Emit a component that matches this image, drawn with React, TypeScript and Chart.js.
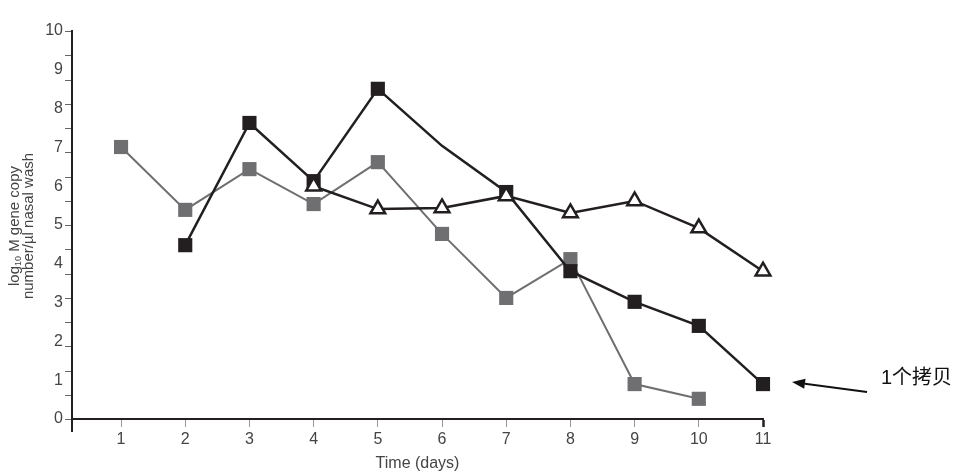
import React, { useEffect, useRef } from "react";
import { Chart, registerables } from "chart.js";

Chart.register(...registerables);

const days = [1, 2, 3, 4, 5, 6, 7, 8, 9, 10, 11];
const grayValues = [7.01, 5.39, 6.44, 5.54, 6.62, 4.77, 3.12, 4.12, 0.9, 0.52, null];
const blackValues = [null, 4.48, 7.63, 6.13, 8.51, 7.04, 5.85, 3.81, 3.02, 2.4, 0.9];
const blackMarkerVisible = [false, true, true, true, true, false, true, true, true, true, true];
const triangleValues = [null, null, null, 6.0, 5.41, 5.44, 5.75, 5.31, 5.62, 4.92, 3.81];
const yTickLabels = [0, 1, 2, 3, 4, 5, 6, 7, 8, 9, 10];
const xTitle = "Time (days)";
const yTitleLine1 = ["log", "10", " M gene copy"];
const yTitleLine2 = "number/µl nasal wash";
const annotationText = "1个拷贝";

const BLACK = "#231f20";
const GRAY = "#6f6f71";
const TEXT = "#444444";
const FONT = '"Liberation Sans", Arial, sans-serif';

const toPoints = (vals: (number | null)[]) =>
  days.map((d, i) => ({ x: d, y: vals[i] as number | null }));

const extrasPlugin = {
  id: "extras",
  afterDraw(chart: any) {
    const ctx = chart.ctx;
    const y = chart.scales.y;
    const area = chart.chartArea;
    const ax = area.left;
    ctx.save();
    // minor tick marks on y axis (17 evenly spaced marks)
    ctx.strokeStyle = "#666";
    ctx.lineWidth = 1;
    for (let i = 0; i <= 16; i++) {
      const py = Math.round(y.getPixelForValue((i * 10) / 16)) + 0.5;
      ctx.beginPath();
      ctx.moveTo(ax - 7, py);
      ctx.lineTo(ax - 1, py);
      ctx.stroke();
    }
    // y axis extension below x axis
    ctx.strokeStyle = BLACK;
    ctx.lineWidth = 2;
    ctx.beginPath();
    ctx.moveTo(ax, area.bottom);
    ctx.lineTo(ax, area.bottom + 13);
    ctx.stroke();

    // y title
    ctx.fillStyle = TEXT;
    ctx.textBaseline = "middle";
    const cy = 226;
    const fs = 15;
    const subFs = 9;
    ctx.save();
    ctx.translate(15, cy);
    ctx.rotate(-Math.PI / 2);
    ctx.font = `${fs}px ${FONT}`;
    const w0 = ctx.measureText(yTitleLine1[0]).width;
    ctx.font = `${subFs}px ${FONT}`;
    const w1 = ctx.measureText(yTitleLine1[1]).width;
    ctx.font = `${fs}px ${FONT}`;
    const w2 = ctx.measureText(yTitleLine1[2]).width;
    let sx = -(w0 + w1 + w2) / 2;
    ctx.textAlign = "left";
    ctx.fillText(yTitleLine1[0], sx, 0);
    sx += w0;
    ctx.font = `${subFs}px ${FONT}`;
    ctx.fillText(yTitleLine1[1], sx, 4);
    sx += w1;
    ctx.font = `${fs}px ${FONT}`;
    ctx.fillText(yTitleLine1[2], sx, 0);
    ctx.textAlign = "center";
    ctx.fillText(yTitleLine2, 0, 14);
    ctx.restore();

    // annotation
    ctx.fillStyle = "#111";
    ctx.font = `20px ${FONT}, "Noto Sans CJK SC"`;
    ctx.textAlign = "left";
    ctx.textBaseline = "middle";
    ctx.fillText(annotationText, 881, 378);

    // arrow
    const tipX = 792, tipY = 382;
    const tailX = 867, tailY = 392;
    const ang = Math.atan2(tailY - tipY, tailX - tipX);
    const hl = 13, hw = 5;
    const bx = tipX + Math.cos(ang) * hl;
    const by = tipY + Math.sin(ang) * hl;
    ctx.strokeStyle = "#111";
    ctx.lineWidth = 2;
    ctx.beginPath();
    ctx.moveTo(tailX, tailY);
    ctx.lineTo(bx, by);
    ctx.stroke();
    ctx.fillStyle = "#111";
    ctx.beginPath();
    ctx.moveTo(tipX, tipY);
    ctx.lineTo(bx - Math.sin(ang) * hw, by + Math.cos(ang) * hw);
    ctx.lineTo(bx + Math.sin(ang) * hw, by - Math.cos(ang) * hw);
    ctx.closePath();
    ctx.fill();
    ctx.restore();
  },
};

export default function App() {
  const ref = useRef<HTMLCanvasElement | null>(null);
  useEffect(() => {
    if (!ref.current) return;
    const chart = new Chart(ref.current, {
      type: "line",
      data: {
        datasets: [
          {
            label: "triangle",
            data: toPoints(triangleValues),
            borderColor: BLACK,
            borderWidth: 2.5,
            pointStyle: "triangle",
            pointRadius: 8.5,
            pointBorderWidth: 2.5,
            pointBackgroundColor: "#ffffff",
            pointBorderColor: BLACK,
            clip: false,
            order: 0,
          },
          {
            label: "black",
            data: toPoints(blackValues),
            borderColor: BLACK,
            borderWidth: 2.5,
            pointStyle: "rect",
            pointRadius: blackMarkerVisible.map((v) => (v ? 10 : 0)),
            pointBorderWidth: 0,
            pointBackgroundColor: BLACK,
            pointBorderColor: BLACK,
            clip: false,
            order: 1,
          },
          {
            label: "gray",
            data: toPoints(grayValues),
            borderColor: GRAY,
            borderWidth: 2,
            pointStyle: "rect",
            pointRadius: 10,
            pointBorderWidth: 0,
            pointBackgroundColor: GRAY,
            pointBorderColor: GRAY,
            clip: false,
            order: 2,
          },
        ],
      },
      options: {
        animation: false,
        responsive: true,
        maintainAspectRatio: false,
        events: [],
        layout: { padding: { left: 0, top: 31, right: 213, bottom: 0 } },
        plugins: { legend: { display: false }, tooltip: { enabled: false } },
        scales: {
          x: {
            type: "linear",
            min: 0.236,
            max: 11,
            afterBuildTicks: (s: any) => {
              s.ticks = days.map((d) => ({ value: d }));
            },
            afterFit: (s: any) => {
              s.height = 56;
            },
            border: { display: true, color: BLACK, width: 2 },
            grid: {
              display: true,
              drawOnChartArea: false,
              drawTicks: true,
              tickLength: 8,
              tickColor: (c: any) => (c.index === days.length - 1 ? BLACK : "#999"),
              tickWidth: (c: any) => (c.index === days.length - 1 ? 2.5 : 1),
            },
            ticks: {
              color: TEXT,
              font: { family: FONT, size: 16 },
              padding: 3,
              autoSkip: false,
              maxRotation: 0,
            },
            title: {
              display: true,
              text: xTitle,
              color: TEXT,
              font: { family: FONT, size: 16 },
              padding: { top: 0, bottom: 2 },
            },
          },
          y: {
            type: "linear",
            min: 0,
            max: 10,
            afterBuildTicks: (s: any) => {
              s.ticks = yTickLabels.map((v) => ({ value: v }));
            },
            afterFit: (s: any) => {
              s.width = 72;
            },
            border: { display: true, color: BLACK, width: 2 },
            grid: { display: false },
            ticks: {
              color: TEXT,
              font: { family: FONT, size: 16 },
              padding: 1,
            },
          },
        },
      },
      plugins: [extrasPlugin],
    } as any);
    return () => chart.destroy();
  }, []);
  return (
    <div style={{ position: "absolute", left: 0, top: 0, width: 976, height: 475, background: "#fff" }}>
      <canvas ref={ref} />
    </div>
  );
}
